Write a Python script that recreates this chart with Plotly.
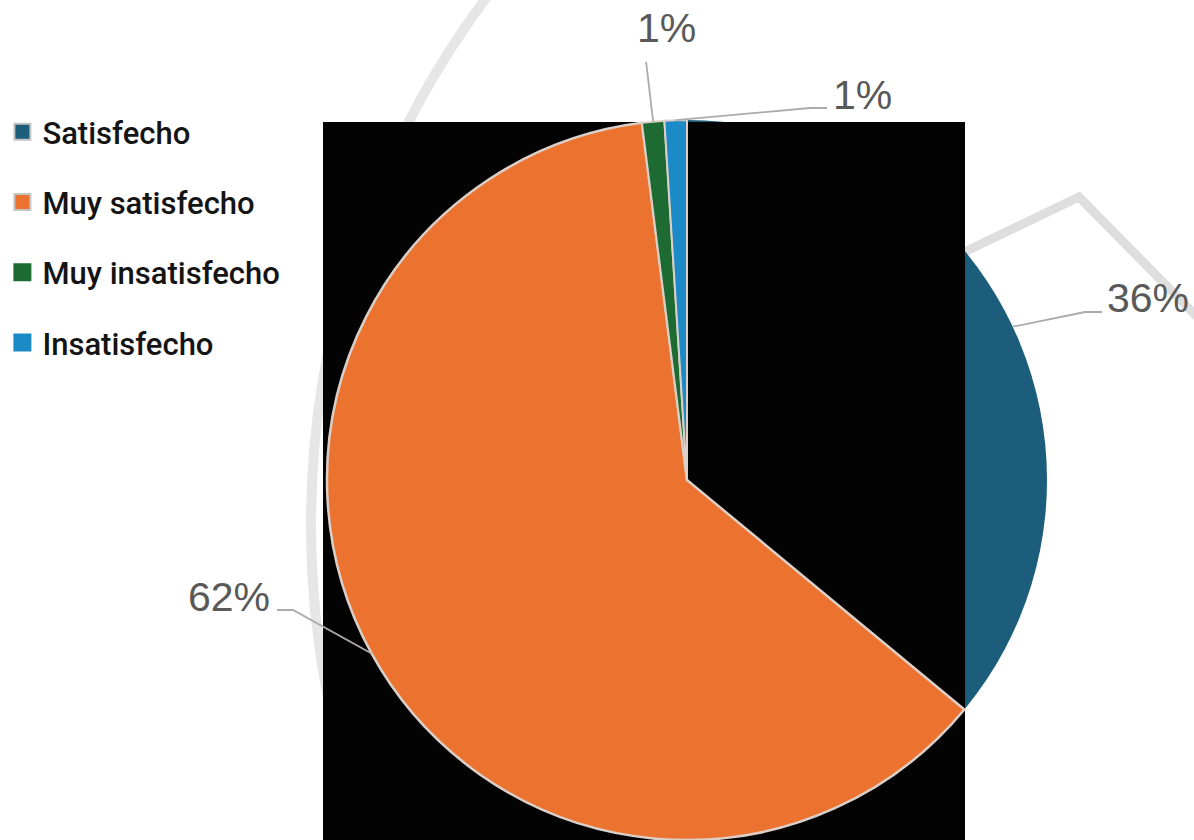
import math
import plotly.graph_objects as go

W, H = 1194, 840

# ---- data ----
labels = ["Satisfecho", "Muy satisfecho", "Muy insatisfecho", "Insatisfecho"]
values = [36, 62, 1, 1]

# ---- styles ----
colors = ["#1C5D7C", "#EB722F", "#1D6B33", "#1B8AC6"]
swatch_borders = ["#C4C4C4", "#C4C4C4", "#1D6B33", "#1B8AC6"]
slice_line_widths = [0, 2.5, 2, 2]
label_font = dict(family="Liberation Sans, Arial", size=41, color="#595959")
leader_color = "#ABABAB"

# pie geometry in pixels (centre and radius)
cx, cy, R = 687, 480, 360

# data-label placement: text centre and the leader-line bend / end points
label_layout = [
    dict(text_xy=(1148, 298), path=[(1085, 312), (1102, 312)]),
    dict(text_xy=(229, 597), path=[(293, 610), (277, 610)]),
    dict(text_xy=(666, 28), path=["up", 62]),
    dict(text_xy=(862, 95), path=[(810, 108), (827, 108)]),
]


def px(x):
    return x / W


def py(y):
    return 1 - y / H


total = sum(values)
fig = go.Figure()

# the pie itself (first slice is rendered by the disc underneath it)
slice_colors = ["rgba(0,0,0,0)"] + colors[1:]
fig.add_trace(go.Pie(
    labels=labels, values=values, sort=False, direction="clockwise",
    rotation=0, textinfo="none", showlegend=False,
    marker=dict(colors=slice_colors, line=dict(color="#DCCFC8", width=slice_line_widths)),
    domain=dict(x=[px(cx - R), px(cx + R)], y=[py(cy + R), py(cy - R)]),
    hoverinfo="label+percent",
))

# legend entries
for lab, col, bd in zip(labels, colors, swatch_borders):
    fig.add_trace(go.Scatter(
        x=[None], y=[None], mode="markers", name=lab, legendgroup=lab,
        marker=dict(symbol="square", size=18, color=col, line=dict(color=bd, width=2)),
    ))

shapes = []
# faint background ring
shapes.append(dict(type="circle", xref="paper", yref="paper", layer="below",
                   x0=px(1191 - 880), x1=px(1191 + 880), y0=py(525 + 880), y1=py(525 - 880),
                   line=dict(color="#E6E6E6", width=10), fillcolor="rgba(0,0,0,0)"))
# grey chevron at the upper right
shapes.append(dict(type="path", xref="paper", yref="paper", layer="below",
                   path=f"M {px(960)},{py(254)} L {px(1079)},{py(197)} L {px(1225)},{py(345)}",
                   line=dict(color="#DEDEDE", width=9)))
# disc carrying the colour of the first slice
shapes.append(dict(type="circle", xref="paper", yref="paper", layer="below",
                   x0=px(cx - R), x1=px(cx + R), y0=py(cy + R), y1=py(cy - R),
                   fillcolor=colors[0], line=dict(width=0)))
# dark panel
shapes.append(dict(type="rect", xref="paper", yref="paper", layer="below",
                   x0=px(323), x1=px(965), y0=py(840), y1=py(122),
                   fillcolor="#030303", line=dict(width=0)))

annotations = []
cum = 0
for v, lay in zip(values, label_layout):
    theta = 2 * math.pi * (cum + v / 2) / total
    cum += v
    sx = cx + R * math.sin(theta)
    sy = cy - R * math.cos(theta)
    if lay["path"][0] == "up":
        pts = [(sx, sy), (sx - 7, lay["path"][1])]
    else:
        pts = [(sx, sy)] + lay["path"]
    d = "M " + " L ".join(f"{px(a)},{py(b)}" for a, b in pts)
    shapes.append(dict(type="path", xref="paper", yref="paper", layer="above",
                       path=d, line=dict(color=leader_color, width=1.8)))
    pct = round(100 * v / total)
    tx, ty = lay["text_xy"]
    annotations.append(dict(xref="paper", yref="paper", x=px(tx), y=py(ty),
                            xanchor="center", yanchor="middle", showarrow=False,
                            text=f"{pct}%", font=label_font))

fig.update_layout(
    width=W, height=H,
    margin=dict(l=0, r=0, t=0, b=0),
    paper_bgcolor="white", plot_bgcolor="rgba(0,0,0,0)",
    xaxis=dict(visible=False, range=[0, 1]),
    yaxis=dict(visible=False, range=[0, 1]),
    shapes=shapes, annotations=annotations,
    legend=dict(x=0.002, y=py(105), xanchor="left", yanchor="top",
                font=dict(family="Roboto", size=31, color="#141414", weight=500),
                traceorder="grouped", tracegroupgap=27,
                bgcolor="rgba(0,0,0,0)", itemclick=False, itemdoubleclick=False),
    showlegend=True,
)

fig.write_html("out.html")
